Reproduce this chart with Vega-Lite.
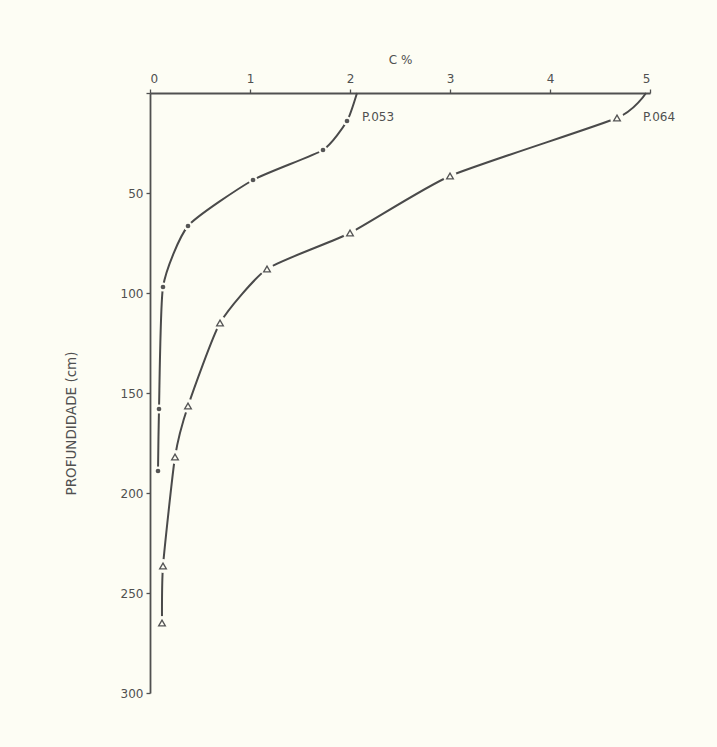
{
  "$schema": "https://vega.github.io/schema/vega-lite/v6.json",
  "autosize": "none",
  "width": 500,
  "height": 600,
  "padding": {"left": 150, "top": 93, "right": 67, "bottom": 54},
  "background": "#fdfdf4",
  "config": {
    "view": {"stroke": null},
    "font": "DejaVu Sans",
    "axis": {"grid": false, "domainColor": "#505050", "domainWidth": 1.8, "tickColor": "#505050", "tickSize": 4, "tickWidth": 1.3, "labelColor": "#505050", "labelFontSize": 12, "titleColor": "#505050", "titleFontWeight": "normal", "titleFontSize": 12}
  },
  "datasets": {
    "pts": [
      {"perfil": "P.053", "c": 2.07, "depth": 0, "marker": false},
      {"perfil": "P.053", "c": 1.97, "depth": 14, "marker": true},
      {"perfil": "P.053", "c": 1.73, "depth": 28.5, "marker": true},
      {"perfil": "P.053", "c": 1.03, "depth": 43.5, "marker": true},
      {"perfil": "P.053", "c": 0.38, "depth": 66.5, "marker": true},
      {"perfil": "P.053", "c": 0.13, "depth": 97, "marker": true},
      {"perfil": "P.053", "c": 0.09, "depth": 158, "marker": true},
      {"perfil": "P.053", "c": 0.08, "depth": 189, "marker": true},
      {"perfil": "P.064", "c": 4.96, "depth": 0, "marker": false},
      {"perfil": "P.064", "c": 4.67, "depth": 12.5, "marker": true},
      {"perfil": "P.064", "c": 3.0, "depth": 41.5, "marker": true},
      {"perfil": "P.064", "c": 2.0, "depth": 70, "marker": true},
      {"perfil": "P.064", "c": 1.17, "depth": 88, "marker": true},
      {"perfil": "P.064", "c": 0.7, "depth": 115, "marker": true},
      {"perfil": "P.064", "c": 0.38, "depth": 156.5, "marker": true},
      {"perfil": "P.064", "c": 0.25, "depth": 182, "marker": true},
      {"perfil": "P.064", "c": 0.13, "depth": 236.5, "marker": true},
      {"perfil": "P.064", "c": 0.12, "depth": 265, "marker": true}
    ],
    "labels": [
      {"perfil": "P.053", "c": 2.12, "depth": 12},
      {"perfil": "P.064", "c": 4.93, "depth": 12}
    ]
  },
  "layer": [
    {
      "data": {"name": "pts"},
      "mark": {"type": "line", "interpolate": "cardinal", "tension": 0.45, "strokeWidth": 2, "color": "#4a4a4a"},
      "encoding": {
        "x": {"field": "c", "type": "quantitative", "scale": {"domain": [0, 5], "nice": false}, "axis": {"orient": "top", "values": [0, 1, 2, 3, 4, 5], "format": "d", "title": "C %", "labelPadding": 4, "titlePadding": 6}},
        "y": {"field": "depth", "type": "quantitative", "scale": {"domain": [0, 300], "reverse": true, "nice": false}, "axis": {"orient": "left", "values": [0, 50, 100, 150, 200, 250, 300], "labelExpr": "datum.value == 0 ? '' : datum.label", "title": "PROFUNDIDADE (cm)", "titleX": -72, "titleY": 330, "titleAngle": -90, "titleFontSize": 13.5, "labelPadding": 3}},
        "detail": {"field": "perfil"},
        "order": {"field": "depth", "type": "quantitative"}
      }
    },
    {
      "data": {"name": "pts"},
      "transform": [{"filter": "datum.marker"}],
      "mark": {"type": "point", "filled": true, "color": "#fdfdf4", "opacity": 1},
      "encoding": {
        "x": {"field": "c", "type": "quantitative"},
        "y": {"field": "depth", "type": "quantitative"},
        "size": {"field": "perfil", "type": "nominal", "scale": {"domain": ["P.053", "P.064"], "range": [80, 190]}, "legend": null}
      }
    },
    {
      "data": {"name": "pts"},
      "transform": [{"filter": "datum.marker && datum.perfil == 'P.053'"}],
      "mark": {"type": "point", "shape": "circle", "filled": true, "color": "#555555", "size": 22, "opacity": 1},
      "encoding": {
        "x": {"field": "c", "type": "quantitative"},
        "y": {"field": "depth", "type": "quantitative"}
      }
    },
    {
      "data": {"name": "pts"},
      "transform": [{"filter": "datum.marker && datum.perfil == 'P.064'"}],
      "mark": {"type": "point", "shape": "triangle-up", "filled": false, "color": "#555555", "size": 45, "strokeWidth": 1.3, "opacity": 1},
      "encoding": {
        "x": {"field": "c", "type": "quantitative"},
        "y": {"field": "depth", "type": "quantitative"}
      }
    },
    {
      "data": {"name": "labels"},
      "mark": {"type": "text", "align": "left", "baseline": "middle", "fontSize": 12, "color": "#505050"},
      "encoding": {
        "x": {"field": "c", "type": "quantitative"},
        "y": {"field": "depth", "type": "quantitative"},
        "text": {"field": "perfil"}
      }
    }
  ]
}
